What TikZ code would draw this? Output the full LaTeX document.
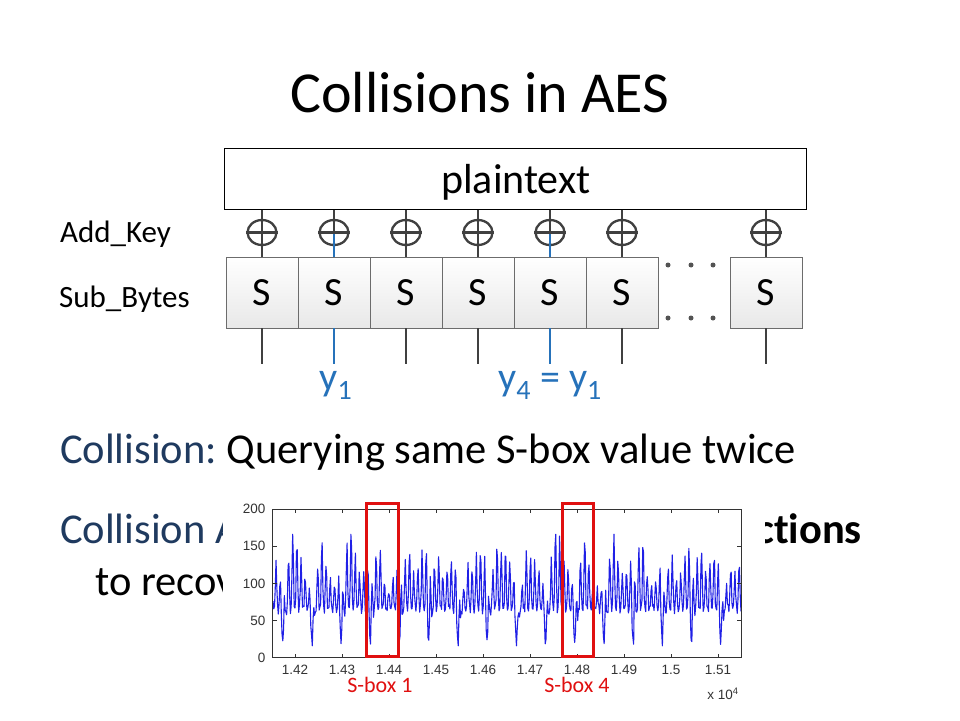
\documentclass[tikz,border=0pt]{standalone}
\usepackage{fontspec}
\setmainfont[Ligatures=NoCommon]{Carlito}
\newfontfamily\axfont{Liberation Sans}
\usetikzlibrary{shapes.geometric}
\definecolor{ttlblue}{HTML}{1F3A5F}
\definecolor{yblue}{HTML}{2672BA}
\definecolor{xorgray}{HTML}{404040}
\definecolor{plotblue}{HTML}{2020E6}
\definecolor{boxred}{HTML}{E01010}
\definecolor{axgray}{HTML}{333333}
\pgfmathdeclarefunction{sig}{1}{%
  \begingroup
  \pgfmathsetmacro\sgT{mod(#1-283.3+292,29.2)}%
  \pgfmathsetmacro\sgD{min(\sgT,29.2-\sgT)}%
  \pgfmathsetmacro\sgP{((1+cos(360*(\sgT-1)/4.2))/2)^2}%
  \pgfmathsetmacro\sgA{58+32*exp(-min((\sgT-10)*(\sgT-10)/8,9))+20*sin(13.7*#1)+12*sin(5.3*#1)}%
  \pgfmathsetmacro\sgE{exp(-min(\sgD*\sgD/4,9))}%
  \pgfmathsetmacro\sgH{sin(360*mod(#1,1.7)/1.7)}%
  \pgfmathparse{62+\sgA*\sgP+4*\sgH+6*rnd-50*\sgE}%
  \pgfmathparse{min(max(\pgfmathresult,16),166)}%
  \pgfmathsmuggle\pgfmathresult
  \endgroup}
\tikzset{
  sbox/.style={draw=gray!85!black, line width=0.8pt, minimum width=72pt, minimum height=71pt,
    inner sep=0pt, top color=white, bottom color=gray!18, font=\fontsize{40}{44}\selectfont},
  xorc/.style={ellipse, draw=xorgray, line width=2.3pt, minimum width=29pt, minimum height=25pt, inner sep=0pt},
  wire/.style={draw=xorgray, line width=2.3pt},
  bwire/.style={draw=yblue, line width=2.3pt},
  dotc/.style={circle, fill=xorgray!90, inner sep=0pt, minimum size=5pt},
  lbl/.style={font=\fontsize{31}{34}\selectfont, anchor=base west, inner sep=0pt},
  body/.style={font=\fontsize{42.5}{48}\selectfont, anchor=base west, inner sep=0pt},
  ylab/.style={font=\fontsize{40}{44}\selectfont, text=yblue, anchor=base},
  axlab/.style={font=\axfont\fontsize{13.5}{15}\selectfont, text=axgray},
  redlab/.style={font=\fontsize{22}{24}\selectfont, text=boxred},
  redbox/.style={draw=boxred, line width=2.6pt}
}
\begin{document}
\begin{tikzpicture}[x=1pt,y=-1pt]
\useasboundingbox (0,0) rectangle (960,720);
\fill[white] (0,0) rectangle (960,720);
% title
\node[font=\fontsize{58}{62}\selectfont, anchor=base] (title) at (480,112) {Collisions in AES};
% plaintext
\node[draw=black, line width=1pt, minimum width=582pt, minimum height=61pt, inner sep=0pt] (pt) at (515,178.5) {};
\node[font=\fontsize{42}{46}\selectfont, anchor=base] (ptxt) at (516,193) {plaintext};
% side labels
\node[lbl] (addkey) at (60,242) {Add\_Key};
\node[lbl] (subbytes) at (59,307) {Sub\_Bytes};
% S-boxes
\foreach \i/\xx in {1/262,2/334,3/406,4/478,5/550,6/622,7/766}{
  \node[sbox] (s\i) at (\xx,292.5) {S};
  \node[xorc] (x\i) at (\xx,232.5) {};
}
% wires
\foreach \i in {1,3,4,6,7}{
  \draw[wire] (x\i |- pt.south) -- (s\i.north);
  \draw[wire] (x\i.west) -- (x\i.east);
  \draw[wire] (s\i.south) -- ++(0,36);
}
\foreach \i in {2,5}{
  \draw[wire] (x\i |- pt.south) -- (x\i.center);
  \draw[bwire] (x\i.center) -- (s\i.north);
  \draw[wire] (x\i.west) -- (x\i.east);
  \draw[bwire] (s\i.south) -- ++(0,36);
}
% dots
\foreach \j/\xx in {1/668,2/691,3/713}{
  \node[dotc] (du\j) at (\xx,265) {};
  \node[dotc] (dd\j) at (\xx,318) {};
}
% y labels
\node[ylab] (y1) at (336,390) {y\textsubscript{1}};
\node[ylab] (y4) at (550,390) {y\textsubscript{4} = y\textsubscript{1}};
% body text
\node[body] (coll) at (60,463) {\textcolor{ttlblue}{Collision:}\hspace{-3pt} Querying same S-box value twice};
\node[body] (coll2) at (60,543) {\textcolor{ttlblue}{Collision A}};
\node[body, anchor=base east] (coll2b) at (862,543) {\textbf{ctions}};
\node[body] (coll3) at (95,595) {to recov};
% plot image
\fill[white] (223,497) rectangle (765,706);
\begin{scope}
\clip (272.7,509) rectangle (741,657.7);
\pgfmathsetseed{7}
\draw[plotblue, line width=1.1pt, line join=round] plot[domain=273:741, samples=620, variable=\x] ({\x},{657.7-0.7435*sig(\x)});
\end{scope}
\draw[axgray, line width=0.7pt] (272.7,509) rectangle (741,657.7);
\foreach \v/\yy in {200/509,150/546.2,100/583.4,50/620.5,0/657.7}{
  \node[axlab, anchor=east] at (269,\yy) {\v};
  \draw[axgray, line width=0.6pt] (272.7,\yy) -- ++(4,0);
  \draw[axgray, line width=0.6pt] (741,\yy) -- ++(-4,0);
}
\foreach \k/\t in {0/1.42,1/1.43,2/1.44,3/1.45,4/1.46,5/1.47,6/1.48,7/1.49,8/1.5,9/1.51}{
  \pgfmathsetmacro\tx{295+47*\k}
  \node[axlab] at (\tx,670) {\t};
  \draw[axgray, line width=0.6pt] (\tx,657.7) -- ++(0,-4);
  \draw[axgray, line width=0.6pt] (\tx,509) -- ++(0,4);
}
\node[axlab] (xpow) at (723,694) {x 10\textsuperscript{4}};
\draw[redbox] (366.7,503.3) rectangle (398.3,656.7);
\draw[redbox] (562.7,503.3) rectangle (593.3,656.7);
\node[redlab] (sb1) at (380,685) {S-box 1};
\node[redlab] (sb4) at (577,685) {S-box 4};
\end{tikzpicture}
\end{document}
